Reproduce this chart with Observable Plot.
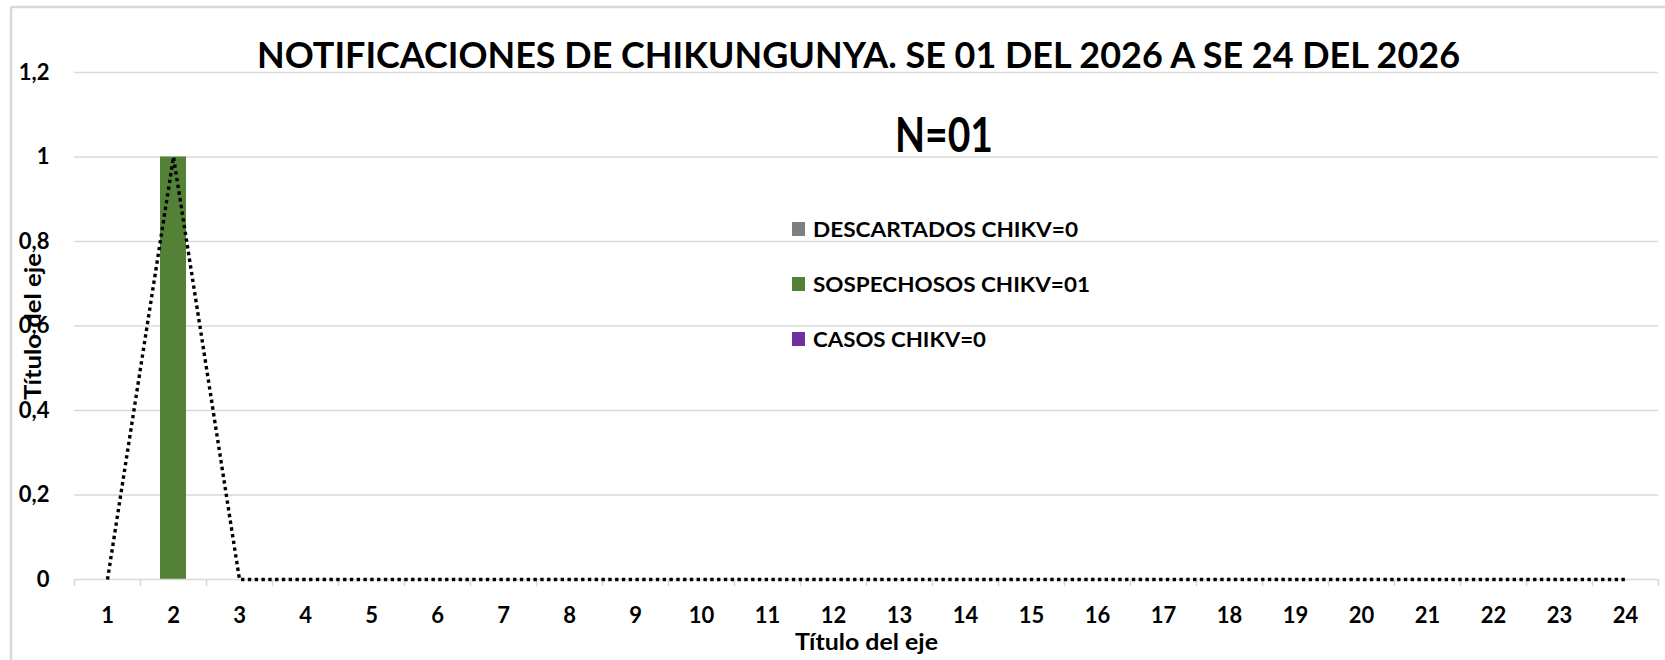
<!DOCTYPE html>
<html>
<head>
<meta charset="utf-8">
<script src="https://cdn.jsdelivr.net/npm/d3@7"></script>
<script src="https://cdn.jsdelivr.net/npm/@observablehq/plot@0.6"></script>
<style>
  html, body { margin: 0; padding: 0; background: #fff; }
  #wrap { position: relative; width: 1665px; height: 660px; background: #fff; overflow: hidden; }
  #chart, #overlay { position: absolute; left: 0; top: 0; }
  text { font-family: Lato, "Open Sans", sans-serif; font-weight: bold; }
</style>
</head>
<body>
<div id="wrap">
  <div id="chart"></div>
  <svg id="overlay" width="1665" height="660"></svg>
</div>
<script>
// ---- Data ----
const weeks = [1,2,3,4,5,6,7,8,9,10,11,12,13,14,15,16,17,18,19,20,21,22,23,24];
const descartados = [0,0,0,0,0,0,0,0,0,0,0,0,0,0,0,0,0,0,0,0,0,0,0,0];
const sospechosos = [0,1,0,0,0,0,0,0,0,0,0,0,0,0,0,0,0,0,0,0,0,0,0,0];
const casos       = [0,0,0,0,0,0,0,0,0,0,0,0,0,0,0,0,0,0,0,0,0,0,0,0];
const totalNotif  = [0,1,0,0,0,0,0,0,0,0,0,0,0,0,0,0,0,0,0,0,0,0,0,0];
const yTicks = [0, 0.2, 0.4, 0.6, 0.8, 1, 1.2];
const titleText = "NOTIFICACIONES DE CHIKUNGUNYA. SE 01 DEL 2026 A SE 24 DEL 2026";
const subtitleText = "N=01";
const legendLabels = ["DESCARTADOS CHIKV=0", "SOSPECHOSOS CHIKV=01", "CASOS CHIKV=0"];
const seriesColors = ["#7f7f7f", "#538135", "#7030a0"];
const axisTitle = "Título del eje";

// ---- Build ----
const rows = weeks.map((w, i) => ({
  week: w, descartados: descartados[i], sospechosos: sospechosos[i], casos: casos[i], total: totalNotif[i]
}));
const boundaries = [weeks[0] - 0.5, ...weeks.map(w => w + 0.5)];
const fmt = d => String(d).replace(".", ",");
const grid = "#d9d9d9";

const barMark = (key, color) => Plot.rectY(rows, {
  x1: d => d.week - 0.5, x2: d => d.week + 0.5, y: key, fill: color,
  insetLeft: 20, insetRight: 20
});

const chart = Plot.plot({
  width: 1665, height: 660,
  marginLeft: 74, marginRight: 7, marginTop: 72, marginBottom: 81,
  style: { fontFamily: "Lato, 'Open Sans', sans-serif", fontSize: "22px", fontWeight: "bold", color: "#000", background: "transparent" },
  x: { type: "linear", domain: [boundaries[0], boundaries[boundaries.length - 1]], label: null },
  y: { domain: [0, yTicks[yTicks.length - 1]], label: null },
  marks: [
    Plot.ruleY(yTicks.filter(t => t > 0), { stroke: grid, strokeWidth: 1.6 }),
    barMark("descartados", seriesColors[0]),
    barMark("sospechosos", seriesColors[1]),
    barMark("casos", seriesColors[2]),
    Plot.ruleY([0], { stroke: grid, strokeWidth: 1.6 }),
    Plot.axisX({ ticks: boundaries, tickSize: 7, text: null, stroke: grid, strokeWidth: 1.6, label: null }),
    Plot.axisX({ ticks: weeks, tickSize: 0, tickPadding: 28, tickFormat: d => String(d), label: null, fill: "#000" }),
    Plot.axisY({ ticks: yTicks, tickSize: 0, tickPadding: 25, tickFormat: fmt, label: null, fill: "#000" }),
    Plot.line(rows, { x: "week", y: "total", stroke: "#000", strokeWidth: 3.4, strokeDasharray: "3.4,3.4", strokeLinecap: "butt", strokeLinejoin: "miter" })
  ]
});
document.getElementById("chart").appendChild(chart);

// ---- Overlay: frame, titles, legend, axis titles ----
const ov = d3.select("#overlay");
ov.append("line").attr("x1", 11).attr("x2", 1665).attr("y1", 7).attr("y2", 7)
  .attr("stroke", grid).attr("stroke-width", 2.5);
ov.append("line").attr("x1", 11).attr("x2", 11).attr("y1", 7).attr("y2", 660)
  .attr("stroke", grid).attr("stroke-width", 2.5);

ov.append("text").attr("x", 257).attr("y", 68).attr("font-size", 37)
  .attr("textLength", 1203).attr("lengthAdjust", "spacingAndGlyphs").text(titleText);
ov.append("text").attr("x", 895).attr("y", 152).attr("font-size", 48)
  .attr("textLength", 98).attr("lengthAdjust", "spacingAndGlyphs").text(subtitleText);

const legBase = [237, 292, 347];
const legLen = [265, 277, 173];
legendLabels.forEach((lab, i) => {
  ov.append("rect").attr("x", 792).attr("y", legBase[i] - 15).attr("width", 13).attr("height", 14)
    .attr("fill", seriesColors[i]);
  ov.append("text").attr("x", 813).attr("y", legBase[i]).attr("font-size", 21)
    .attr("textLength", legLen[i]).attr("lengthAdjust", "spacingAndGlyphs").text(lab);
});

ov.append("text").attr("x", 795).attr("y", 650).attr("font-size", 22)
  .attr("textLength", 143).attr("lengthAdjust", "spacingAndGlyphs").text(axisTitle);
ov.append("text").attr("transform", "translate(41,400) rotate(-90)").attr("font-size", 22)
  .attr("textLength", 147).attr("lengthAdjust", "spacingAndGlyphs").text(axisTitle);
</script>
</body>
</html>
